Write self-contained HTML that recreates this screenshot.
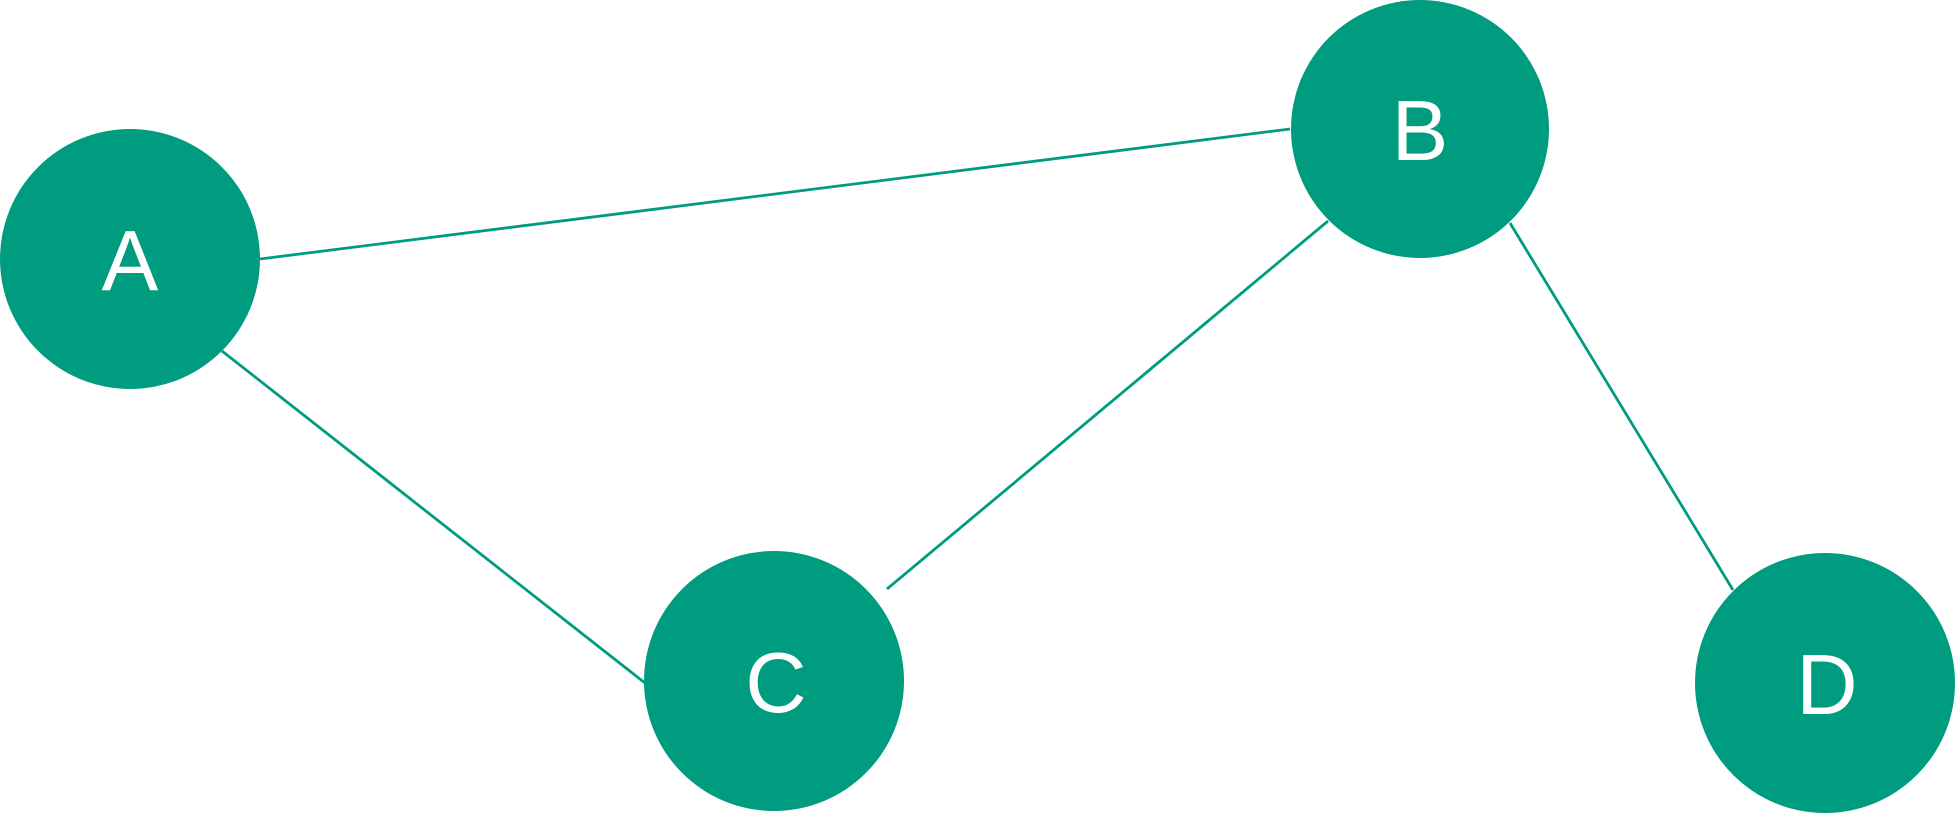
<!DOCTYPE html>
<html><head><meta charset="utf-8"><style>
html,body{margin:0;padding:0;background:#fff;}
svg{display:block;}
</style></head><body>
<svg width="1955" height="813" viewBox="0 0 1955 813" xmlns="http://www.w3.org/2000/svg">
<g stroke="#009c7f" stroke-width="2.8" fill="none">
<line x1="260" y1="259" x2="1290" y2="129"/>
<line x1="222" y1="351" x2="645" y2="683"/>
<line x1="1328" y1="221" x2="887" y2="589"/>
<line x1="1510" y1="223" x2="1733" y2="590"/>
</g>
<g fill="#009c7f">
<circle cx="130" cy="259" r="130"/>
<circle cx="1420" cy="129" r="129"/>
<circle cx="774" cy="681" r="130"/>
<circle cx="1825" cy="683" r="130"/>
</g>
<g fill="#fff" font-family="Liberation Sans, Arial, sans-serif" font-size="85" text-anchor="middle">
<text x="130" y="290">A</text>
<text x="1420" y="160">B</text>
<text x="776" y="712">C</text>
<text x="1827" y="714">D</text>
</g>
</svg>
</body></html>
